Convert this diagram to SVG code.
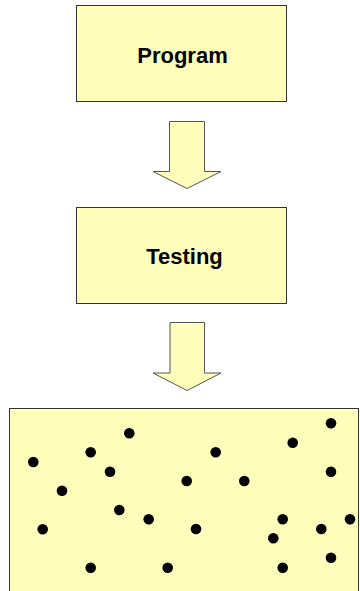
<svg xmlns="http://www.w3.org/2000/svg" width="360" height="591" viewBox="0 0 360 591">
<style>
.box{fill:#FFFFBB;stroke:#333;stroke-width:1}
.arr{fill:#FFFFBB;stroke:#555;stroke-width:1}
.lbl{font-family:"Liberation Sans",Arial,sans-serif;font-weight:bold;font-size:22px;fill:#000;text-anchor:middle}
.dot{fill:#000}
</style>
<rect width="360" height="591" fill="#fff"/>
<g id="program">
<rect class="box" x="76.5" y="5.5" width="210" height="96"/>
<text class="lbl" x="182.5" y="62.5">Program</text>
</g>
<g id="testing">
<rect class="box" x="76.5" y="207.5" width="210" height="96"/>
<text class="lbl" x="184.5" y="263.5">Testing</text>
</g>
<g id="output">
<rect class="box" x="9.5" y="408.5" width="349" height="200"/>
<g class="dot">
<circle cx="129.3" cy="433.3" r="5.3"/>
<circle cx="90.7" cy="452.3" r="5.3"/>
<circle cx="33.3" cy="462" r="5.3"/>
<circle cx="110" cy="471.7" r="5.3"/>
<circle cx="62" cy="490.7" r="5.3"/>
<circle cx="119.3" cy="510" r="5.3"/>
<circle cx="148.7" cy="519.3" r="5.3"/>
<circle cx="42.7" cy="529.3" r="5.3"/>
<circle cx="90.7" cy="567.7" r="5.3"/>
<circle cx="167.7" cy="567.7" r="5.3"/>
<circle cx="331" cy="423.3" r="5.3"/>
<circle cx="292.7" cy="442.7" r="5.3"/>
<circle cx="215.7" cy="452.3" r="5.3"/>
<circle cx="331" cy="471.7" r="5.3"/>
<circle cx="186.7" cy="481" r="5.3"/>
<circle cx="244.3" cy="481" r="5.3"/>
<circle cx="282.7" cy="519.3" r="5.3"/>
<circle cx="350" cy="519.3" r="5.3"/>
<circle cx="196" cy="529" r="5.3"/>
<circle cx="321.3" cy="529" r="5.3"/>
<circle cx="273.3" cy="538.3" r="5.3"/>
<circle cx="331" cy="557.7" r="5.3"/>
<circle cx="282.7" cy="567.7" r="5.3"/>
</g>
</g>
<g id="connectors">
<polygon class="arr" points="169.5,121.5 204.5,121.5 204.5,171.5 221,171.5 187,188.5 153,171.5 169.5,171.5"/>
<polygon class="arr" points="170,322.5 204.5,322.5 204.5,373 221,373 187,390.5 153,373 170,373"/>
</g>
</svg>
